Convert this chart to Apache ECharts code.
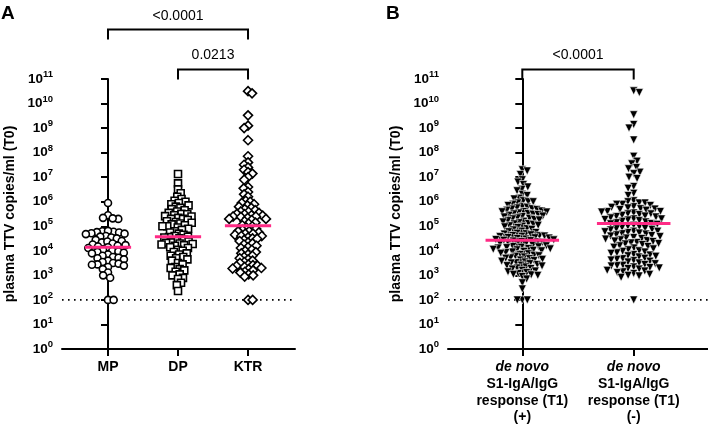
<!DOCTYPE html>
<html><head><meta charset="utf-8">
<script src="https://cdn.jsdelivr.net/npm/echarts@6/dist/echarts.min.js"></script>
<style>html,body{margin:0;padding:0;background:#fff}#c{width:708px;height:425px}</style>
</head><body><div id="c"></div>
<script>
// ---------------- data (copies/ml) ----------------
const categoriesA = ['MP', 'DP', 'KTR'];
const categoriesB = [
  ['de novo', 'S1-IgA/IgG', 'response (T1)', '(+)'],
  ['de novo', 'S1-IgA/IgG', 'response (T1)', '(-)']
];
const yTickValues = [1, 1e1, 1e2, 1e3, 1e4, 1e5, 1e6, 1e7, 1e8, 1e9, 1e10, 1e11];
const detectionLimit = 100;

const valuesMP = [8.9e5, 2.8e5, 2.2e5, 2.0e5, 2.1e5, 6.3e4, 6.0e4, 5.6e4, 5.8e4, 5.2e4, 5.0e4, 4.8e4, 6.5e4,
  4.0e4, 3.5e4, 3.2e4, 3.8e4, 2.8e4, 2.5e4, 2.2e4, 2.4e4, 2.0e4, 1.8e4, 1.6e4, 1.7e4, 1.4e4, 1.5e4, 1.3e4,
  1.1e4, 1.0e4, 9.5e3, 8.9e3, 7.9e3, 8.3e3, 7.1e3, 6.3e3, 5.6e3, 5.0e3, 5.2e3, 4.5e3, 4.0e3, 3.5e3, 3.2e3,
  3.0e3, 2.8e3, 2.7e3, 2.5e3, 2.2e3, 1.8e3, 1.3e3, 1.0e3, 8.0e2, 1e2, 1e2];
const valuesDP = [1.35e7, 5.6e6, 3.2e6, 2.2e6, 1.6e6, 1.3e6, 1.1e6, 1.0e6, 8.9e5,
  7.9e5, 7.1e5, 6.3e5, 5.6e5, 5.0e5, 4.5e5, 4.0e5, 3.5e5, 3.2e5, 3.1e5, 2.8e5, 2.5e5, 2.6e5, 2.2e5, 2.0e5,
  2.0e5, 1.8e5, 1.6e5, 1.5e5, 1.4e5, 1.3e5, 1.2e5, 1.1e5, 1.0e5, 1.0e5, 8.9e4, 7.9e4, 7.1e4, 6.3e4, 5.6e4,
  5.0e4, 4.5e4, 4.0e4, 3.8e4, 3.6e4,
  3.5e4, 3.2e4, 2.8e4, 2.5e4, 2.4e4, 2.2e4, 2.1e4, 2.0e4, 1.9e4, 1.8e4, 1.7e4, 1.6e4, 1.4e4,
  1.3e4, 1.1e4, 1.0e4, 8.9e3, 7.9e3, 7.1e3, 6.3e3, 5.6e3, 5.0e3, 4.5e3, 4.0e3, 3.2e3, 2.8e3,
  2.2e3, 2.0e3, 1.8e3, 1.6e3, 1.4e3, 1.1e3, 1.0e3, 7.9e2, 7.1e2, 5.0e2, 4.0e2, 2.3e2];
const valuesKTR = [3.2e10, 2.6e10, 3.3e9, 1.26e9, 1.0e9, 3.2e8,
  7.1e7, 4.0e7, 3.2e7, 2.5e7, 2.0e7, 1.6e7, 1.4e7, 1.0e7, 7.9e6, 4.0e6, 3.5e6, 2.5e6, 2.0e6, 1.6e6, 1.1e6,
  1.0e6, 8.9e5, 7.9e5, 7.1e5,
  6.3e5, 5.6e5, 5.0e5, 4.5e5, 4.0e5, 3.9e5, 3.5e5, 3.2e5, 3.1e5, 2.8e5, 2.7e5, 2.5e5, 2.5e5, 2.4e5, 2.2e5,
  2.0e5, 2.0e5, 1.8e5, 1.6e5, 1.4e5, 1.3e5, 1.1e5, 1.0e5,
  8.9e4, 7.9e4, 7.1e4, 6.3e4, 6.2e4, 5.6e4, 5.0e4, 5.0e4, 4.5e4, 4.0e4, 4.0e4, 3.5e4, 3.2e4, 3.1e4, 2.8e4,
  2.5e4, 2.2e4, 2.0e4, 1.8e4, 1.6e4, 1.4e4, 1.3e4, 1.1e4, 1.0e4, 8.9e3, 7.9e3, 7.1e3, 6.3e3, 5.6e3, 5.0e3,
  4.5e3, 4.0e3, 3.5e3, 3.2e3, 2.8e3, 2.6e3, 2.5e3, 2.4e3, 2.2e3, 2.0e3, 1.9e3, 1.8e3, 1.6e3, 1.4e3, 1.3e3,
  1.1e3, 1.0e3, 8.9e2, 1e2, 1e2];
const valuesPos = [2.0e7, 1.8e7, 1.3e7, 7.9e6, 6.3e6, 5.0e6, 4.0e6, 3.2e6, 2.8e6, 2.0e6, 1.8e6, 1.4e6, 1.3e6,
  1.1e6, 1.0e6, 1.0e6, 8.9e5, 7.9e5, 7.1e5,
  6.3e5, 6.0e5, 5.6e5, 5.2e5, 5.0e5, 4.8e5, 4.5e5, 4.2e5, 4.0e5, 3.9e5, 3.8e5, 3.5e5, 3.3e5, 3.2e5, 3.1e5,
  3.0e5, 2.8e5, 2.6e5, 2.5e5, 2.4e5, 2.2e5, 2.1e5, 2.0e5, 1.9e5, 1.8e5, 1.7e5, 1.6e5, 1.5e5, 1.4e5, 1.3e5,
  1.25e5, 1.2e5, 1.1e5, 1.05e5, 1.0e5, 9.5e4, 8.9e4, 8.0e4, 7.5e4, 7.1e4,
  6.3e4, 6.0e4, 5.6e4, 5.2e4, 5.0e4, 4.8e4, 4.5e4, 4.2e4, 4.1e4, 4.0e4, 3.9e4, 3.8e4, 3.5e4, 3.4e4, 3.3e4,
  3.2e4, 3.0e4, 2.9e4, 2.8e4, 2.7e4,
  2.6e4, 2.5e4, 2.4e4, 2.3e4, 2.2e4, 2.1e4, 2.0e4, 1.9e4, 1.8e4, 1.7e4, 1.6e4, 1.5e4, 1.45e4, 1.4e4, 1.35e4,
  1.3e4, 1.25e4, 1.2e4, 1.15e4, 1.1e4, 1.05e4, 1.0e4, 9.5e3, 9.0e3, 8.5e3, 8.0e3, 7.6e3, 7.1e3, 6.6e3, 6.3e3,
  6.0e3, 5.6e3, 5.2e3, 5.0e3, 4.8e3, 4.5e3, 4.2e3, 4.0e3, 3.8e3, 3.5e3, 3.3e3, 3.2e3, 3.0e3, 2.8e3, 2.6e3,
  2.5e3, 2.4e3, 2.2e3, 2.0e3, 1.9e3, 1.8e3, 1.6e3, 1.5e3, 1.4e3, 1.3e3, 1.2e3, 1.1e3, 1.05e3, 1.0e3,
  9.0e2, 7.1e2, 5.0e2, 2.8e2, 1e2, 1e2, 1e2];
const valuesNeg = [3.3e10, 2.8e10, 3.5e9, 1.4e9, 1.0e9, 3.3e8, 7.1e7, 4.5e7, 3.5e7, 2.5e7, 2.2e7, 1.6e7, 1.4e7,
  1.0e7, 8.9e6, 4.2e6, 3.5e6, 2.2e6, 1.8e6, 1.1e6, 1.0e6, 8.9e5, 8.9e5, 7.9e5, 7.9e5, 7.1e5,
  6.3e5, 5.9e5, 5.6e5, 5.2e5, 5.0e5, 4.8e5, 4.5e5, 4.0e5, 4.0e5, 3.8e5, 3.5e5, 3.2e5, 3.2e5, 3.0e5, 2.8e5,
  2.6e5, 2.5e5, 2.4e5, 2.2e5, 2.0e5, 2.0e5, 1.9e5, 1.8e5, 1.7e5, 1.6e5, 1.5e5, 1.4e5, 1.3e5, 1.26e5, 1.2e5,
  1.1e5, 1.0e5, 9.5e4, 8.9e4, 8.3e4, 7.9e4, 7.5e4, 7.1e4, 6.3e4, 6.3e4, 6.0e4, 5.6e4, 5.3e4, 5.0e4, 4.8e4,
  4.5e4, 4.2e4, 4.0e4, 3.8e4, 3.5e4, 3.3e4, 3.2e4, 3.0e4, 2.8e4, 2.6e4, 2.5e4, 2.4e4, 2.2e4, 2.1e4, 2.0e4,
  1.9e4, 1.8e4, 1.6e4, 1.5e4, 1.4e4, 1.3e4, 1.2e4, 1.1e4, 1.0e4, 9.5e3, 8.9e3, 8.3e3, 7.9e3, 7.1e3, 6.7e3,
  6.3e3, 6.0e3, 5.6e3, 5.0e3, 4.8e3, 4.5e3, 4.2e3, 4.0e3, 3.8e3, 3.5e3, 3.2e3, 3.0e3, 2.8e3, 2.6e3, 2.5e3,
  2.4e3, 2.2e3, 2.1e3, 2.0e3, 1.9e3, 1.8e3, 1.6e3, 1.5e3, 1.4e3, 1.3e3, 1.2e3, 1.1e3, 1.0e3, 9.5e2, 8.3e2,
  1e2];

const mediansA = [1.4e4, 3.7e4, 1.05e5];
const mediansB = [2.7e4, 1.3e5];
const comparisonsA = [{from: 0, to: 2, p: '<0.0001'}, {from: 1, to: 2, p: '0.0213'}];
const comparisonsB = [{from: 0, to: 1, p: '<0.0001'}];
const panelLetters = ['A', 'B'];

// ---------------- layout / styles ----------------
const FONT = '"Liberation Sans", Arial, sans-serif';
const PINK = '#ff2a85';
const X_RANGE = [[-0.657, 2.671], [-0.667, 1.667]];
const groups = [
  {grid: 0, idx: 0, values: valuesMP, symbol: 'circle', size: 7, D: 5.6, filled: false},
  {grid: 0, idx: 1, values: valuesDP, symbol: 'rect', size: 7, D: 4.8, filled: false},
  {grid: 0, idx: 2, values: valuesKTR, symbol: 'diamond', size: 9, D: 4.6, filled: false},
  {grid: 1, idx: 0, values: valuesPos, symbol: 'triangle', size: 8, D: 5.0, filled: true},
  {grid: 1, idx: 1, values: valuesNeg, symbol: 'triangle', size: 8, D: 5.9, filled: true}
];

function yLabel(v) {
  const e = Math.round(Math.log10(v));
  return '{b|10}{s|' + e + '}';
}
function mkY(g) {
  return {
    type: 'log', logBase: 10, gridIndex: g, min: 1, max: 1e11, splitNumber: 11,
    name: 'plasma TTV copies/ml (T0)', nameLocation: 'middle', nameGap: 45,
    nameTextStyle: {fontSize: 14, fontWeight: 'bold', color: '#000', fontFamily: FONT},
    axisLine: {show: true, lineStyle: {color: '#000', width: 2}},
    axisTick: {show: true, length: 7, customValues: yTickValues, lineStyle: {color: '#000', width: 2}},
    minorTick: {show: false}, splitLine: {show: false},
    axisLabel: {
      margin: 9, color: '#000', formatter: yLabel, customValues: yTickValues,
      rich: {
        b: {fontSize: 13.5, fontWeight: 'bold', color: '#000', fontFamily: FONT},
        s: {fontSize: 9.5, fontWeight: 'bold', color: '#000', fontFamily: FONT, padding: [0, 0, 9, 0]}
      }
    }
  };
}
function mkX(g) {
  const cats = g === 0 ? categoriesA : categoriesB;
  const ticks = cats.map((c, i) => i);
  return {
    type: 'value', gridIndex: g, min: X_RANGE[g][0], max: X_RANGE[g][1],
    axisLine: {show: true, lineStyle: {color: '#000', width: 2}},
    axisTick: {show: true, length: 7, customValues: ticks, lineStyle: {color: '#000', width: 2}},
    splitLine: {show: false},
    axisLabel: {
      customValues: ticks, margin: 10, color: '#000',
      formatter: function (v) {
        const c = cats[Math.round(v)];
        if (Array.isArray(c)) return '{i|' + c[0] + '}\n' + c.slice(1).map(t => '{b|' + t + '}').join('\n');
        return '{b|' + c + '}';
      },
      rich: {
        i: {fontSize: 14, fontWeight: 'bold', fontStyle: 'italic', color: '#000', fontFamily: FONT, lineHeight: 16.7},
        b: {fontSize: 14, fontWeight: 'bold', color: '#000', fontFamily: FONT, lineHeight: 16.7}
      }
    }
  };
}

function swarm(ys, D) {
  const order = ys.map((y, i) => i).sort((a, b) => ys[a] - ys[b]);
  const placed = [];
  const xs = new Array(ys.length);
  let flip = 1;
  for (const i of order) {
    const y = ys[i];
    const near = placed.filter(p => Math.abs(p.y - y) < D);
    const cands = [0];
    for (const p of near) {
      const dx = Math.sqrt(D * D - (p.y - y) * (p.y - y));
      cands.push(p.x + dx, p.x - dx);
    }
    cands.sort((a, b) => (Math.abs(a) - Math.abs(b)) || (flip * (a - b)));
    for (const c of cands) {
      if (near.every(p => (p.x - c) * (p.x - c) + (p.y - y) * (p.y - y) >= D * D - 1e-6)) {
        xs[i] = c; placed.push({x: c, y: y}); break;
      }
    }
    flip = -flip;
  }
  return xs;
}

const chart = echarts.init(document.getElementById('c'), null, {renderer: 'canvas'});

function pointSeries(g, data) {
  return {
    type: 'scatter', xAxisIndex: g.grid, yAxisIndex: g.grid, data: data,
    symbol: g.symbol, symbolSize: g.size, symbolRotate: g.symbol === 'triangle' ? 180 : 0,
    itemStyle: g.filled ? {color: '#000', borderColor: '#fff', borderWidth: 0.6, opacity: 1}
                        : {color: '#fff', borderColor: '#000', borderWidth: 1.6, opacity: 1},
    z: 3, silent: true
  };
}
function lineSeries(gi, data, style, z) {
  return {type: 'line', xAxisIndex: gi, yAxisIndex: gi, data: data, symbol: 'none',
    lineStyle: style, z: z, silent: true, animation: false};
}

const base = {
  animation: false,
  backgroundColor: '#fff',
  grid: [
    {left: 62, top: 79, width: 233, height: 270},
    {left: 448, top: 79, width: 260, height: 270}
  ],
  xAxis: [mkX(0), mkX(1)],
  yAxis: [mkY(0), mkY(1)],
  series: groups.map(g => pointSeries(g, g.values.map(v => [g.idx, v])))
};
chart.setOption(base);

// beeswarm offsets computed from the library's own scales
const series = groups.map(g => {
  const px0 = chart.convertToPixel({gridIndex: g.grid}, [0, 1])[0];
  const px1 = chart.convertToPixel({gridIndex: g.grid}, [1, 1])[0];
  const unit = px1 - px0;
  const ys = g.values.map(v => chart.convertToPixel({gridIndex: g.grid}, [g.idx, v])[1]);
  const off = swarm(ys, g.D);
  return pointSeries(g, g.values.map((v, k) => [g.idx + off[k] / unit, v]));
});
[0, 1].forEach(gi => {
  series.push(lineSeries(gi, [[X_RANGE[gi][0], detectionLimit], [X_RANGE[gi][1], detectionLimit]],
    {color: '#000', width: 1.6, type: [1.6, 4.4]}, 1));
});
mediansA.forEach((m, i) => series.push(lineSeries(0, [[i - 0.33, m], [i + 0.33, m]], {color: PINK, width: 3}, 6)));
mediansB.forEach((m, i) => series.push(lineSeries(1, [[i - 0.33, m], [i + 0.33, m]], {color: PINK, width: 3}, 6)));

// brackets
const graphic = [];
function bracket(gi, c, top, drop, textY) {
  const x1 = chart.convertToPixel({gridIndex: gi}, [c.from, 1])[0];
  const x2 = chart.convertToPixel({gridIndex: gi}, [c.to, 1])[0];
  graphic.push({type: 'polyline', shape: {points: [[x1, top + drop], [x1, top], [x2, top], [x2, top + drop]]},
    style: {stroke: '#000', lineWidth: 2, fill: null}});
  graphic.push({type: 'text', x: (x1 + x2) / 2, y: textY,
    style: {text: c.p, fill: '#000', font: '14px ' + FONT, align: 'center', verticalAlign: 'middle'}});
}
bracket(0, comparisonsA[0], 29.5, 10, 16);
bracket(0, comparisonsA[1], 69.5, 10, 55);
bracket(1, comparisonsB[0], 69.5, 10, 55);
graphic.push({type: 'text', x: 1, y: 4, style: {text: panelLetters[0], fill: '#000', font: 'bold 19px ' + FONT}});
graphic.push({type: 'text', x: 386, y: 4, style: {text: panelLetters[1], fill: '#000', font: 'bold 19px ' + FONT}});

chart.setOption({series: series, graphic: graphic});
</script>
</body></html>
